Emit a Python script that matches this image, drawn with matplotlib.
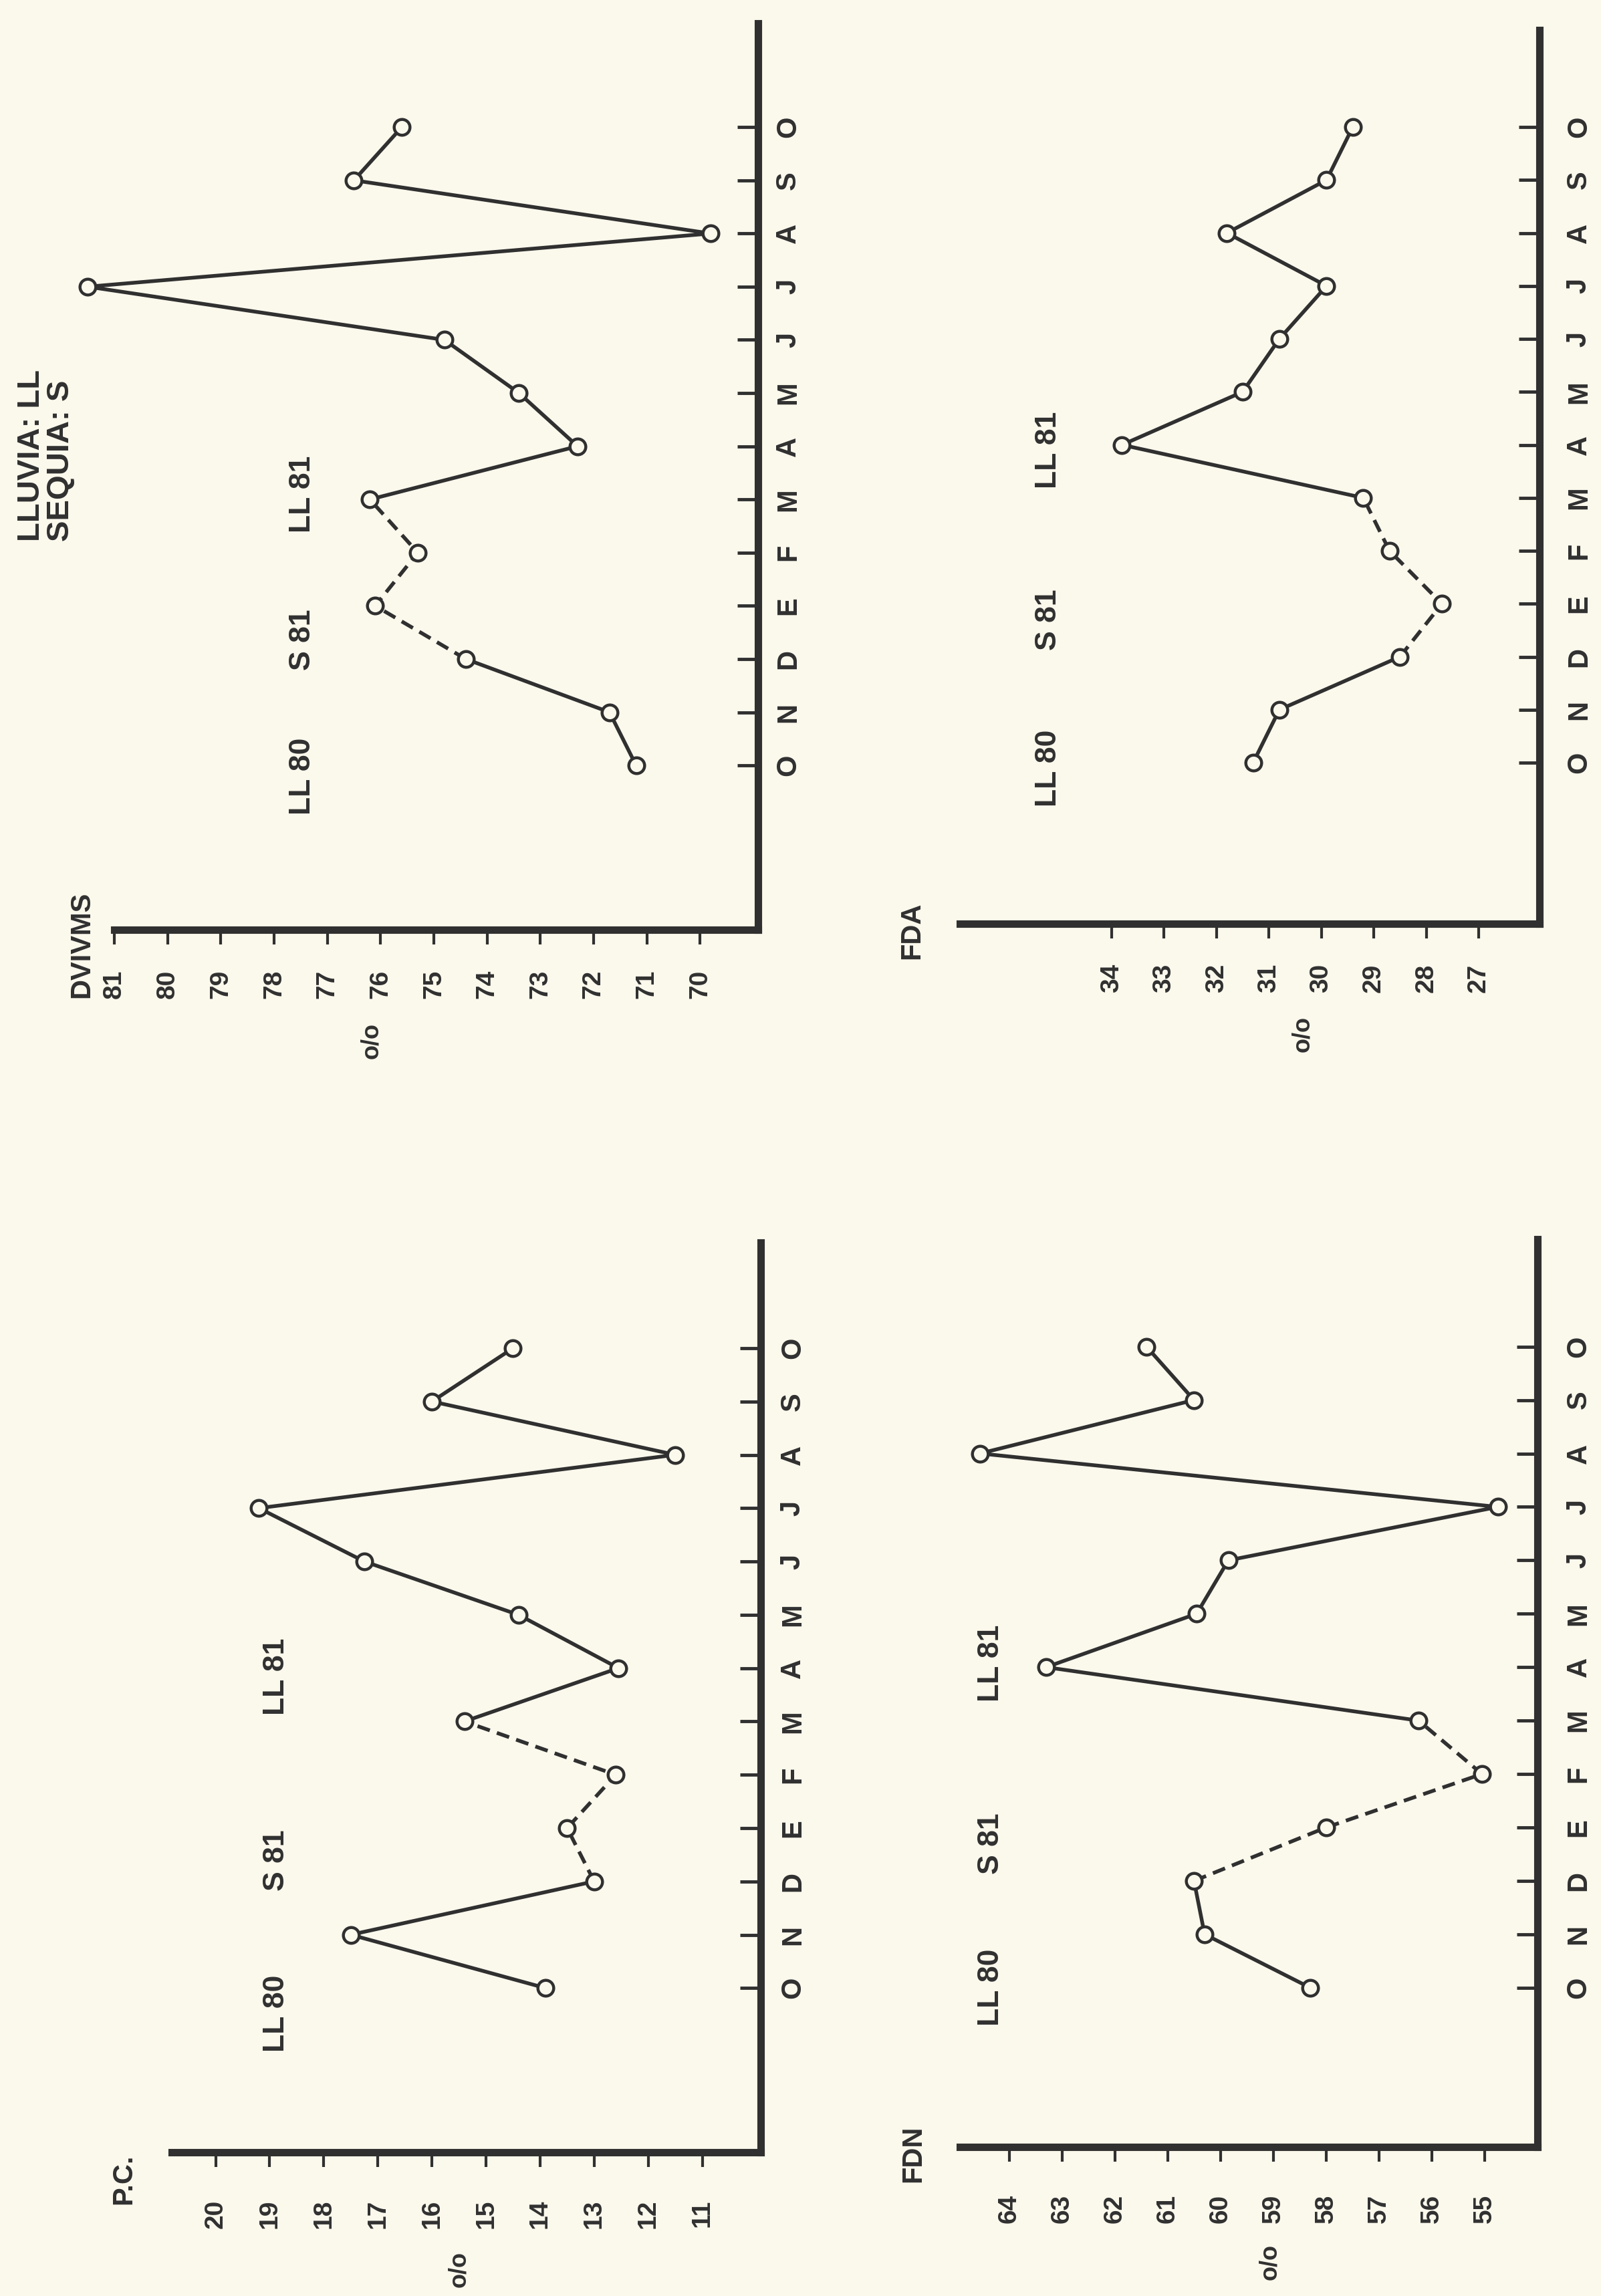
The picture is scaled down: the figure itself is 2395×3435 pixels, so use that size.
import matplotlib.pyplot as plt
import numpy as np

# meses de octubre 80 a octubre 81
meses = ['O', 'N', 'D', 'E', 'F', 'M', 'A', 'M', 'J', 'J', 'A', 'S', 'O']

dvivms = [71.2, 71.7, 74.4, 76.1, 75.3, 76.2, 72.3, 73.4, 74.8, 81.5, 69.8, 76.5, 75.6]
fda = [31.3, 30.8, 28.5, 27.7, 28.7, 29.2, 33.8, 31.5, 30.8, 29.9, 31.8, 29.9, 29.4]
pc = [13.9, 17.5, 13.0, 13.5, 12.6, 15.4, 12.55, 14.4, 17.25, 19.2, 11.5, 16.0, 14.5]
fdn = [58.3, 60.3, 60.5, 58.0, 55.05, 56.25, 63.3, 60.45, 59.85, 54.75, 64.55, 60.5, 61.4]

ticks_dvivms = [81, 80, 79, 78, 77, 76, 75, 74, 73, 72, 71, 70]
ticks_fda = [34, 33, 32, 31, 30, 29, 28, 27]
ticks_pc = [20, 19, 18, 17, 16, 15, 14, 13, 12, 11]
ticks_fdn = [64, 63, 62, 61, 60, 59, 58, 57, 56, 55]

textos = ['LL 80', 'S 81', 'LL 81']

W, H = 2395, 3435
papel = '#fbf8ec'
tinta = '#303030'

plt.rcParams['font.family'] = ['Liberation Sans', 'DejaVu Sans']
plt.rcParams['font.weight'] = 'bold'

fig = plt.figure(figsize=(W / 100, H / 100), dpi=100, facecolor=papel)


def caja(l, r, t, b):
    return [l / W, 1 - b / H, (r - l) / W, (b - t) / H]


def px(x, y):
    return x / W, 1 - y / H


# layout de cada grafico (pixeles de la pagina)
paneles = [
    dict(nombre='DVIVMS', datos=dvivms, ticks=ticks_dvivms,
         rect=(171, 1134, 35, 1391), xlim=(81.0, 68.91), ylim=(-3.09, 13.95),
         xt=77.46, yt=[-0.2, 2.36, 5.1], pos_nombre=(122, 1413), pos_pc=(556, 1557),
         padx=27, pady=18),
    dict(nombre='FDA', datos=fda, ticks=ticks_fda,
         rect=(1436, 2303, 45, 1382), xlim=(36.89, 25.84), ylim=(-3.04, 13.83),
         xt=35.2, yt=[-0.11, 2.7, 5.9], pos_nombre=(1364, 1392), pos_pc=(1949, 1547),
         padx=27, pady=28),
    dict(nombre='P.C.', datos=pc, ticks=ticks_pc,
         rect=(257, 1138, 1859, 3220), xlim=(20.81, 9.92), ylim=(-3.08, 13.98),
         xt=18.87, yt=[-0.48, 2.4, 5.84], pos_nombre=(185, 3260), pos_pc=(687, 3395),
         padx=35, pady=20),
    dict(nombre='FDN', datos=fdn, ticks=ticks_fdn,
         rect=(1436, 2300, 1854, 3212), xlim=(64.93, 54.0), ylim=(-2.98, 14.01),
         xt=64.34, yt=[0.0, 2.7, 6.08], pos_nombre=(1366, 3222), pos_pc=(1900, 3384),
         padx=35, pady=30),
]

for p in paneles:
    ax = fig.add_axes(caja(*p['rect']))
    ax.set_facecolor('none')
    ax.set_xlim(*p['xlim'])
    ax.set_ylim(*p['ylim'])

    m = np.arange(len(meses))
    v = np.array(p['datos'])
    # lluvia: trazo continuo, sequia: discontinuo
    ax.plot(v[:3], m[:3], color=tinta, lw=4, solid_capstyle='round', clip_on=False)
    ax.plot(v[2:6], m[2:6], color=tinta, lw=4, dashes=(3.5, 2), clip_on=False)
    ax.plot(v[5:], m[5:], color=tinta, lw=4, solid_capstyle='round', clip_on=False)
    ax.plot(v, m, 'o', ms=17, mfc=papel, mec=tinta, mew=3.2, ls='none',
            clip_on=False, zorder=3)

    for s in ['top', 'left']:
        ax.spines[s].set_visible(False)
    for s in ['right', 'bottom']:
        ax.spines[s].set_linewidth(8)
        ax.spines[s].set_color(tinta)
        ax.spines[s].set_capstyle('projecting')

    ax.xaxis.set_ticks_position('bottom')
    ax.set_xticks(p['ticks'])
    ax.set_xticklabels([str(t) for t in p['ticks']], rotation=90)
    ax.tick_params(axis='x', direction='out', length=16, width=3, pad=p['padx'],
                   labelsize=28, colors=tinta)

    ax.yaxis.tick_right()
    ax.set_yticks(m)
    ax.set_yticklabels(meses, rotation=90, va='center')
    ax.tick_params(axis='y', direction='in', length=22, width=3.5, pad=p['pady'],
                   labelsize=30, colors=tinta)

    for t, y in zip(textos, p['yt']):
        ax.text(p['xt'], y, t, rotation=90, ha='center', va='center',
                fontsize=32, color=tinta)

    fig.text(*px(*p['pos_nombre']), p['nombre'], rotation=90, ha='center',
             va='center', fontsize=30, color=tinta)
    fig.text(*px(*p['pos_pc']), 'o/o', rotation=90, ha='center', va='center',
             fontsize=26, color=tinta)

fig.text(*px(69, 810), 'LLUVIA: LL\nSEQUIA: S', rotation=90, ha='center',
         va='bottom', multialignment='left', fontsize=34, linespacing=1.0,
         color=tinta)

fig.savefig('out.png', dpi=100, facecolor=papel)
